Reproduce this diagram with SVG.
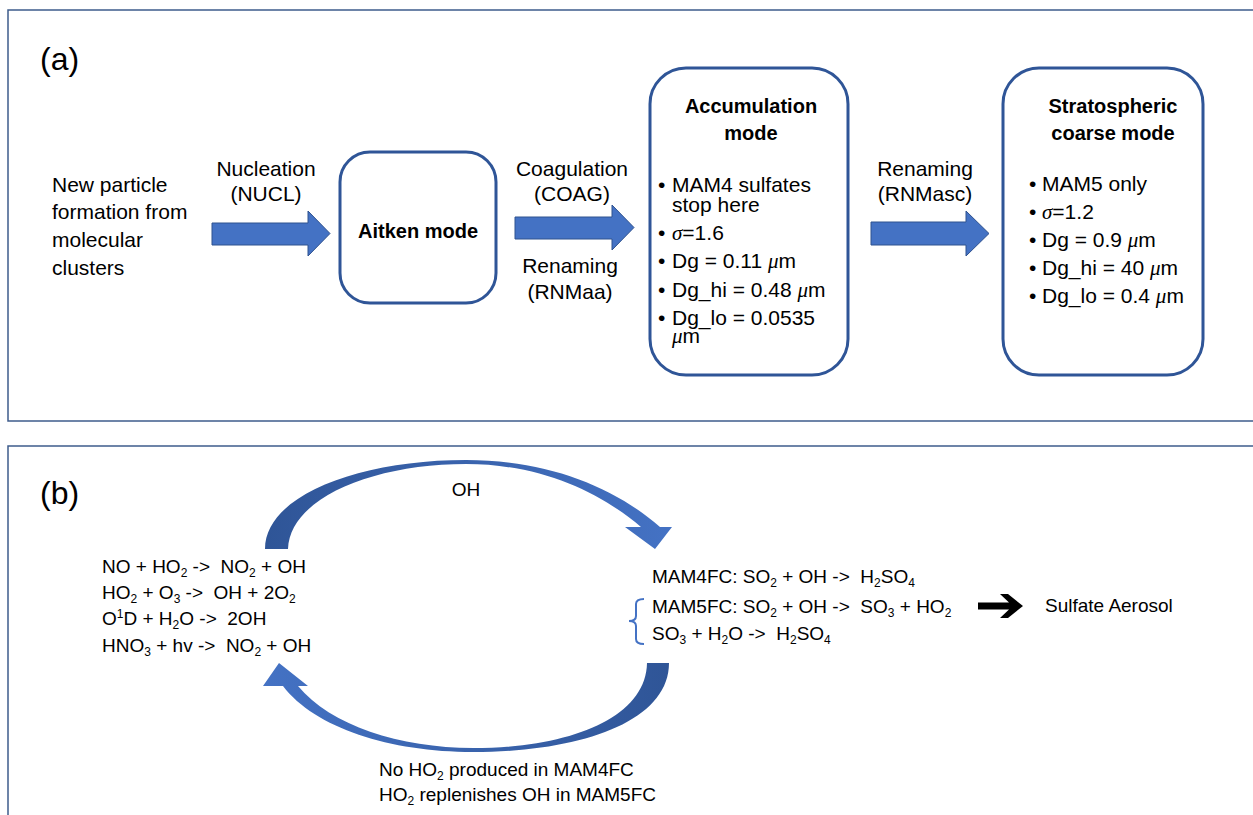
<svg xmlns="http://www.w3.org/2000/svg" width="1253" height="815" viewBox="0 0 1253 815">
<style>
text{font-family:"Liberation Sans",Arial,sans-serif;fill:#000}
.a{font-size:21px}
.h{font-size:20px;font-weight:bold}
.b{font-size:19px}
.lbl{font-size:32px}
.m{font-family:"Liberation Serif",serif;font-style:italic}
.s{font-size:12px}
.frame{fill:none;stroke:#3E5C8C;stroke-width:1.5}
.box{fill:#fff;stroke:#2F5597;stroke-width:3}
.blk{fill:#4472C4;stroke:#2F528F;stroke-width:1}
</style>
<defs>
<linearGradient id="gTop" x1="0" x2="1" y1="0" y2="0"><stop offset="0" stop-color="#2F5597"/><stop offset="1" stop-color="#4472C4"/></linearGradient>
<linearGradient id="gBot" x1="0" x2="1" y1="0" y2="0"><stop offset="0" stop-color="#4472C4"/><stop offset="1" stop-color="#2F5597"/></linearGradient>
</defs>
<rect width="1253" height="815" fill="#fff"/>
<path class="frame" d="M1253,10 H8 V421 H1253"/>
<path class="frame" d="M1253,446 H8 V815"/>
<text class="lbl" x="40" y="70">(a)</text>
<text class="lbl" x="40" y="504">(b)</text>

<g id="connectors">
  <polygon class="blk" points="212,223 308,223 308,211 330,233.5 308,256 308,245 212,245"/>
  <polygon class="blk" points="515,217 612,217 612,205 634,227.5 612,250 612,239 515,239"/>
  <polygon class="blk" points="871,222 966,222 966,211 989,233.5 966,256 966,245 871,245"/>
  <path fill="url(#gTop)" d="M265,549 C265,495 360,460 466,460 C545,460 612,485 660,527 L672,527 L655,549 L625,527 L641,527 C600,492 540,464 466,464 C375,464 290,497 288,549 Z"/>
  <path fill="url(#gBot)" d="M669,663 C669,722 580,752 473,752 C390,752 315,728 283,686 L263,686 L279,663 L308,686 L298,686 C330,725 400,748 473,748 C570,748 646,718 647,663 Z"/>
  <polygon fill="#000" points="978,602.5 1009,602.5 1000,594 1008,594 1023,606 1008,618 1000,618 1009,609.5 978,609.5"/>
  <path d="M644,599 Q636,599 636,604 L636,616 Q636,621 629,621 Q636,621 636,626 L636,639 Q636,644 644,644" fill="none" stroke="#4472C4" stroke-width="2"/>
</g>

<g id="source">
  <text class="a" x="52" y="192">New particle</text>
  <text class="a" x="52" y="219">formation from</text>
  <text class="a" x="52" y="247">molecular</text>
  <text class="a" x="52" y="275">clusters</text>
</g>
<g id="label-nucl">
  <text class="a" x="266" y="176" text-anchor="middle">Nucleation</text>
  <text class="a" x="266" y="201" text-anchor="middle">(NUCL)</text>
</g>
<g id="aitken">
  <rect class="box" x="340" y="152" width="156" height="151" rx="30"/>
  <text class="h" x="418" y="238" text-anchor="middle">Aitken mode</text>
</g>
<g id="label-coag">
  <text class="a" x="572" y="176" text-anchor="middle">Coagulation</text>
  <text class="a" x="572" y="201" text-anchor="middle">(COAG)</text>
  <text class="a" x="570" y="273" text-anchor="middle">Renaming</text>
  <text class="a" x="570" y="299" text-anchor="middle">(RNMaa)</text>
</g>
<g id="accumulation">
  <rect class="box" x="650" y="68" width="198" height="307" rx="36"/>
  <text class="h" x="751" y="113" text-anchor="middle">Accumulation</text>
  <text class="h" x="751" y="140" text-anchor="middle">mode</text>
  <text class="a" x="658" y="192">•<tspan x="672">MAM4 sulfates</tspan></text>
  <text class="a" x="672" y="212">stop here</text>
  <text class="a" x="658" y="240">•<tspan x="672" class="m">σ</tspan>=1.6</text>
  <text class="a" x="658" y="268">•<tspan x="672">Dg = 0.11 </tspan><tspan class="m">μ</tspan>m</text>
  <text class="a" x="658" y="297">•<tspan x="672">Dg_hi = 0.48 </tspan><tspan class="m">μ</tspan>m</text>
  <text class="a" x="658" y="325">•<tspan x="672">Dg_lo = 0.0535</tspan></text>
  <text class="a" x="672" y="343"><tspan class="m">μ</tspan>m</text>
</g>
<g id="label-rnmasc">
  <text class="a" x="925" y="176" text-anchor="middle">Renaming</text>
  <text class="a" x="925" y="201" text-anchor="middle">(RNMasc)</text>
</g>
<g id="stratospheric">
  <rect class="box" x="1003" y="68" width="200" height="307" rx="36"/>
  <text class="h" x="1113" y="113" text-anchor="middle">Stratospheric</text>
  <text class="h" x="1113" y="140" text-anchor="middle">coarse mode</text>
  <text class="a" x="1029" y="191">•<tspan x="1042">MAM5 only</tspan></text>
  <text class="a" x="1029" y="219">•<tspan x="1042" class="m">σ</tspan>=1.2</text>
  <text class="a" x="1029" y="247">•<tspan x="1042">Dg = 0.9 </tspan><tspan class="m">μ</tspan>m</text>
  <text class="a" x="1029" y="275">•<tspan x="1042">Dg_hi = 40 </tspan><tspan class="m">μ</tspan>m</text>
  <text class="a" x="1029" y="303">•<tspan x="1042">Dg_lo = 0.4 </tspan><tspan class="m">μ</tspan>m</text>
</g>

<g id="oh-sources">
  <text class="b" x="102" y="573" xml:space="preserve">NO + HO<tspan class="s" dy="4">2</tspan><tspan dy="-4"> -&gt;  NO</tspan><tspan class="s" dy="4">2</tspan><tspan dy="-4"> + OH</tspan></text>
  <text class="b" x="102" y="599" xml:space="preserve">HO<tspan class="s" dy="4">2</tspan><tspan dy="-4"> + O</tspan><tspan class="s" dy="4">3</tspan><tspan dy="-4"> -&gt;  OH + 2O</tspan><tspan class="s" dy="4">2</tspan></text>
  <text class="b" x="102" y="625" xml:space="preserve">O<tspan class="s" dy="-7">1</tspan><tspan dy="7">D + H</tspan><tspan class="s" dy="4">2</tspan><tspan dy="-4">O -&gt;  2OH</tspan></text>
  <text class="b" x="102" y="652" xml:space="preserve">HNO<tspan class="s" dy="4">3</tspan><tspan dy="-4"> + hv -&gt;  NO</tspan><tspan class="s" dy="4">2</tspan><tspan dy="-4"> + OH</tspan></text>
</g>
<g id="label-oh">
  <text class="b" x="466" y="496" text-anchor="middle">OH</text>
</g>
<g id="sulfur-reactions">
  <text class="b" x="652" y="583" xml:space="preserve">MAM4FC: SO<tspan class="s" dy="4">2</tspan><tspan dy="-4"> + OH -&gt;  H</tspan><tspan class="s" dy="4">2</tspan><tspan dy="-4">SO</tspan><tspan class="s" dy="4">4</tspan></text>
  <text class="b" x="652" y="613" xml:space="preserve">MAM5FC: SO<tspan class="s" dy="4">2</tspan><tspan dy="-4"> + OH -&gt;  SO</tspan><tspan class="s" dy="4">3</tspan><tspan dy="-4"> + HO</tspan><tspan class="s" dy="4">2</tspan></text>
  <text class="b" x="652" y="640" xml:space="preserve">SO<tspan class="s" dy="4">3</tspan><tspan dy="-4"> + H</tspan><tspan class="s" dy="4">2</tspan><tspan dy="-4">O -&gt;  H</tspan><tspan class="s" dy="4">2</tspan><tspan dy="-4">SO</tspan><tspan class="s" dy="4">4</tspan></text>
</g>
<g id="sulfate-aerosol">
  <text class="b" x="1045" y="612">Sulfate Aerosol</text>
</g>
<g id="label-ho2">
  <text class="b" x="379" y="776">No HO<tspan class="s" dy="4">2</tspan><tspan dy="-4"> produced in MAM4FC</tspan></text>
  <text class="b" x="379" y="801">HO<tspan class="s" dy="4">2</tspan><tspan dy="-4"> replenishes OH in MAM5FC</tspan></text>
</g>
</svg>
